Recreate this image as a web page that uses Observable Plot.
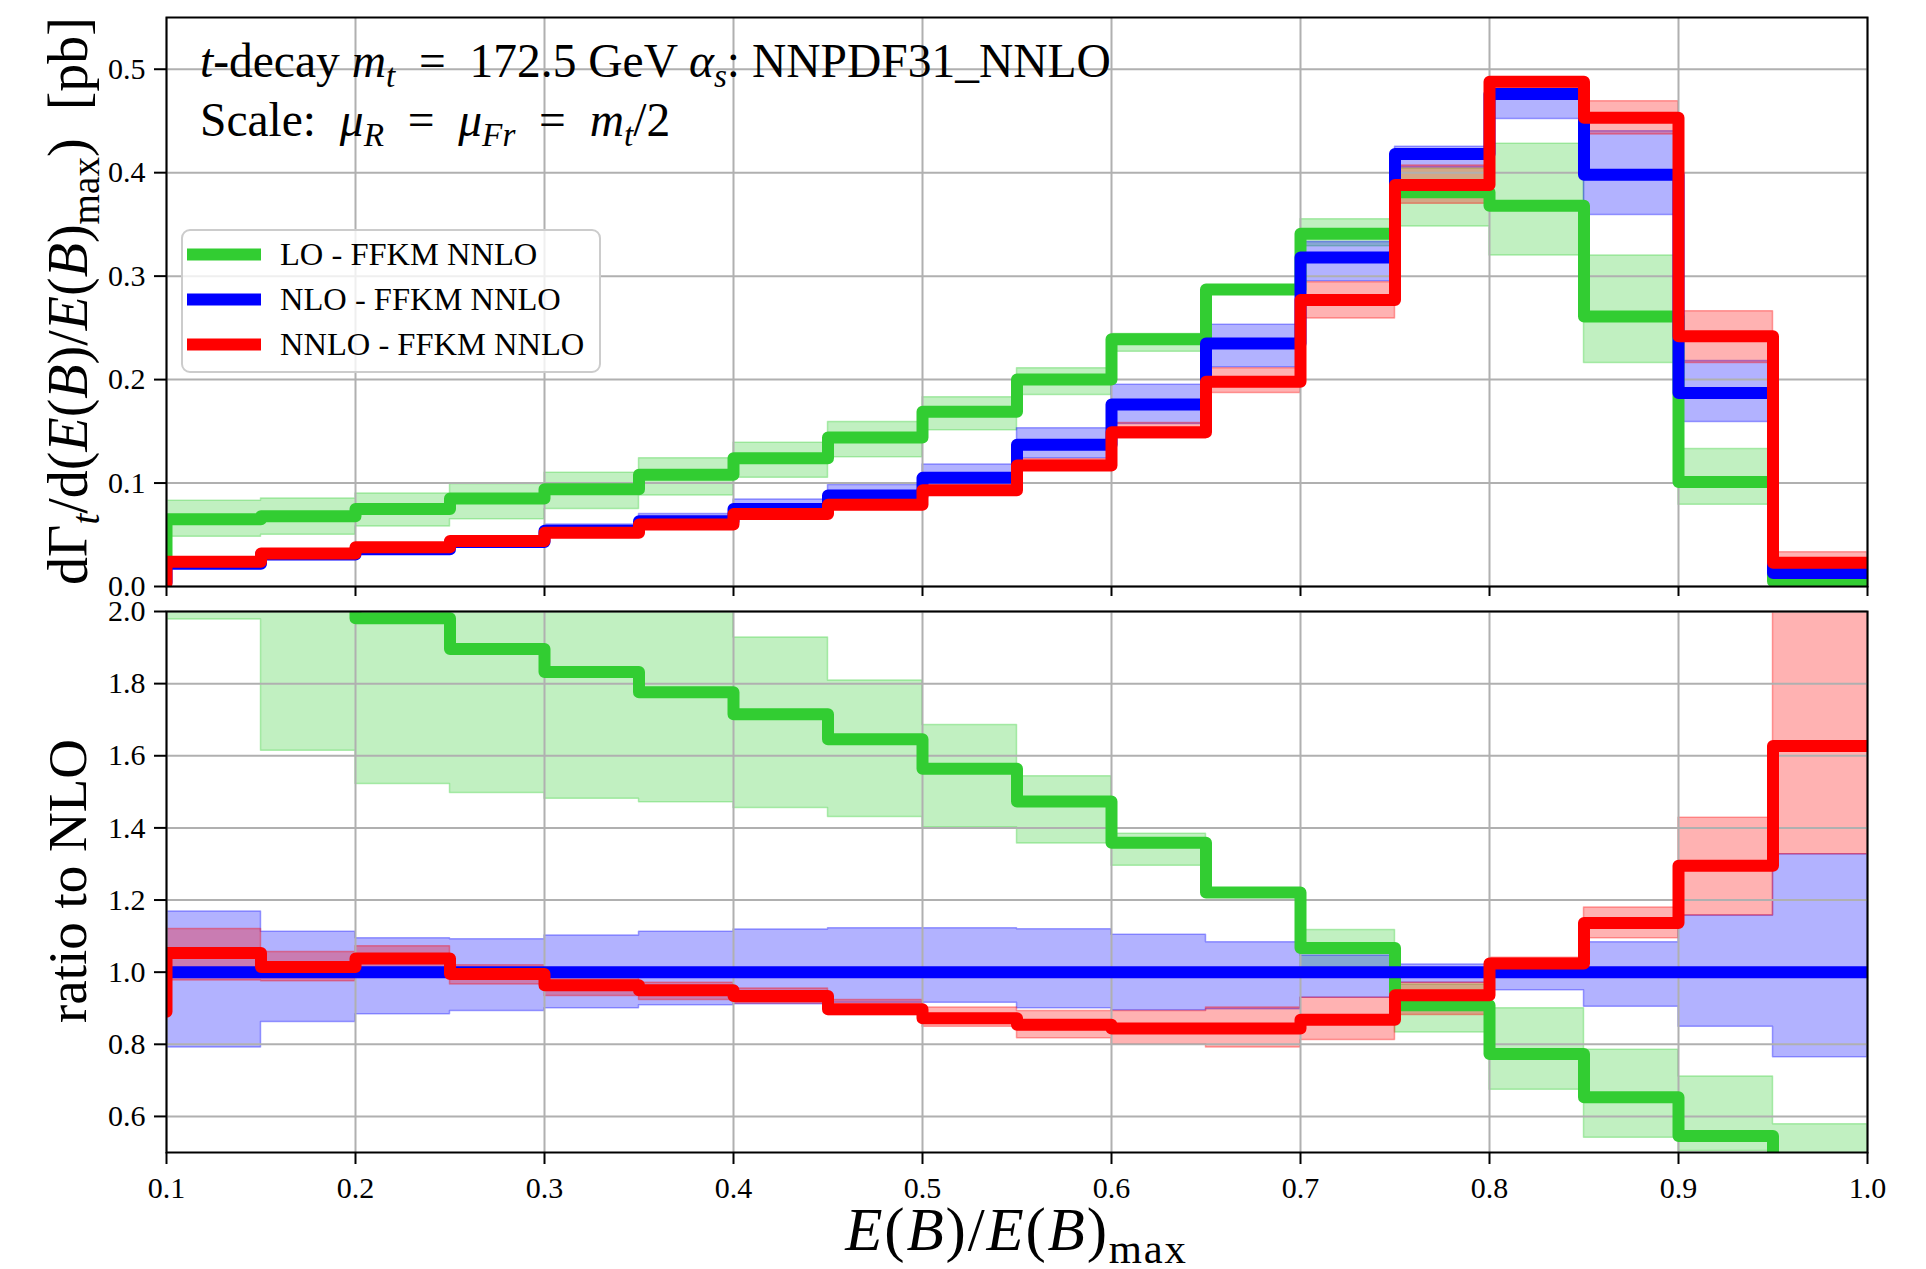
<!DOCTYPE html>
<html><head><meta charset="utf-8">
<script src="https://cdn.jsdelivr.net/npm/d3@7"></script>
<script src="https://cdn.jsdelivr.net/npm/@observablehq/plot@0.6"></script>
<style>
body{margin:0;background:#fff;}
#chart{width:1926px;}
#chart svg{display:block;}
</style></head><body><div id="chart"></div>
<script>
// ---------- data ----------
const binLow = [0.10,0.15,0.20,0.25,0.30,0.35,0.40,0.45,0.50,0.55,0.60,0.65,0.70,0.75,0.80,0.85,0.90,0.95];
const binEnd = 1.0;
const prevBin = 0.05;
const xTicks = [0.1,0.2,0.3,0.4,0.5,0.6,0.7,0.8,0.9,1.0];
const yTicksTop = [0.0,0.1,0.2,0.3,0.4,0.5];
const yTicksRatio = [0.6,0.8,1.0,1.2,1.4,1.6,1.8,2.0];
const seriesNames = ["LO - FFKM NNLO","NLO - FFKM NNLO","NNLO - FFKM NNLO"];

// top panel: dGamma/d(E(B)/E(B)max) [pb]
const loTopPrev = 0.03;
const loTop   = [0.065,0.068,0.075,0.085,0.094,0.108,0.124,0.144,0.169,0.200,0.239,0.287,0.341,0.381,0.368,0.261,0.101,0.005];
const loTopLo = [0.048,0.050,0.058,0.065,0.075,0.088,0.105,0.125,0.151,0.185,0.227,0.282,0.329,0.348,0.320,0.216,0.079,0.003];
const loTopHi = [0.083,0.085,0.090,0.099,0.110,0.124,0.139,0.159,0.183,0.211,0.244,0.290,0.355,0.404,0.428,0.320,0.133,0.008];

const nloTopPrev = 0.004;
const nloTop   = [0.022,0.031,0.036,0.043,0.054,0.063,0.075,0.088,0.105,0.137,0.176,0.235,0.318,0.418,0.476,0.398,0.187,0.013];
const nloTopLo = [0.018,0.027,0.032,0.038,0.049,0.057,0.068,0.081,0.097,0.124,0.157,0.212,0.295,0.405,0.452,0.359,0.159,0.010];
const nloTopHi = [0.026,0.034,0.039,0.047,0.060,0.070,0.084,0.098,0.118,0.153,0.195,0.253,0.333,0.425,0.478,0.440,0.218,0.018];

const nnloTopPrev = 0.003;
const nnloTop   = [0.024,0.032,0.038,0.044,0.052,0.060,0.070,0.079,0.093,0.117,0.149,0.198,0.277,0.388,0.488,0.453,0.242,0.023];
const nnloTopLo = [0.022,0.030,0.036,0.042,0.050,0.058,0.068,0.077,0.090,0.113,0.143,0.187,0.259,0.370,0.478,0.437,0.216,0.018];
const nnloTopHi = [0.026,0.033,0.039,0.045,0.054,0.062,0.072,0.082,0.097,0.123,0.158,0.211,0.294,0.407,0.492,0.469,0.266,0.033];

// bottom panel: ratio to NLO
const loRatioPrev = 3.2;
const loRatio   = [2.95,2.20,1.981,1.896,1.832,1.776,1.715,1.646,1.564,1.473,1.359,1.221,1.067,0.908,0.773,0.653,0.546,0.38];
const loRatioLo = [1.978,1.614,1.522,1.497,1.481,1.471,1.455,1.430,1.402,1.357,1.295,1.210,1.000,0.833,0.674,0.541,0.504,0.30];
const loRatioHi = [4.0,3.0,2.6,2.4,2.3,2.1,1.928,1.809,1.685,1.543,1.384,1.232,1.117,0.966,0.900,0.785,0.711,0.578];

const nloRatioPrev = 1.0;
const nloRatio   = [1,1,1,1,1,1,1,1,1,1,1,1,1,1,1,1,1,1];
const nloRatioLo = [0.791,0.862,0.883,0.892,0.900,0.908,0.911,0.915,0.915,0.900,0.894,0.897,0.929,0.971,0.950,0.904,0.849,0.764];
const nloRatioHi = [1.168,1.112,1.094,1.091,1.102,1.112,1.118,1.122,1.122,1.119,1.104,1.083,1.046,1.021,1.003,1.083,1.157,1.327];

const nnloRatioPrev = 0.89;
const nnloRatio   = [1.053,1.014,1.038,0.995,0.964,0.950,0.934,0.897,0.872,0.854,0.844,0.844,0.868,0.936,1.024,1.136,1.295,1.627];
const nnloRatioLo = [0.977,0.975,1.003,0.966,0.934,0.923,0.913,0.881,0.849,0.817,0.800,0.791,0.812,0.881,1.010,1.094,1.157,1.327];
const nnloRatioHi = [1.120,1.056,1.072,1.019,0.987,0.971,0.955,0.923,0.902,0.892,0.892,0.902,0.929,0.971,1.040,1.179,1.428,2.5];

// ---------- helpers ----------
const colors = ["#32cd32","#0000ff","#ff0000"];
const FONT = "'Liberation Serif', 'Times New Roman', serif";
const EQ = "\u2002=\u2002";
const LW = 12;

function stepLine(vals, prev) {
  const pts = [{x: prevBin, y: prev}];
  binLow.forEach((x, i) => pts.push({x, y: vals[i]}));
  pts.push({x: binEnd, y: vals[vals.length - 1]});
  return pts;
}
function stepBand(lo, hi) {
  const pts = binLow.map((x, i) => ({x, y1: lo[i], y2: hi[i]}));
  pts.push({x: binEnd, y1: lo[lo.length - 1], y2: hi[hi.length - 1]});
  return pts;
}
function bandMark(lo, hi, c) {
  return Plot.areaY(stepBand(lo, hi), {x: "x", y1: "y1", y2: "y2", curve: "step-after",
    fill: c, fillOpacity: 0.3, stroke: c, strokeOpacity: 0.35, strokeWidth: 1.5, clip: true});
}
function lineMark(vals, prev, c) {
  return Plot.line(stepLine(vals, prev), {x: "x", y: "y", curve: "step-after",
    stroke: c, strokeWidth: LW, strokeLinejoin: "round", strokeLinecap: "butt", clip: true});
}
const gridStyle = {stroke: "#b0b0b0", strokeOpacity: 1, strokeWidth: 2};

function rich(sel, segs, size) {
  let shift = 0;
  segs.forEach(s => {
    const target = s.sub ? size * 0.22 : 0;
    const ts = sel.append("tspan").text(s.t);
    if (s.i) ts.attr("font-style", "italic");
    if (s.sub) ts.attr("font-size", size * 0.7);
    if (target !== shift) { ts.attr("dy", target - shift); shift = target; }
  });
}

// ---------- top panel ----------
const topPlot = Plot.plot({
  width: 1926, height: 600,
  marginLeft: 166, marginRight: 59, marginTop: 17, marginBottom: 14,
  style: {fontFamily: FONT, fontSize: "30px", color: "black", background: "white", overflow: "visible"},
  x: {domain: [0.1, 1.0]},
  y: {domain: [0, 0.55]},
  marks: [
    bandMark(loTopLo, loTopHi, colors[0]),
    bandMark(nloTopLo, nloTopHi, colors[1]),
    bandMark(nnloTopLo, nnloTopHi, colors[2]),
    Plot.gridX(xTicks, gridStyle),
    Plot.gridY(yTicksTop, gridStyle),
    lineMark(loTop, loTopPrev, colors[0]),
    lineMark(nloTop, nloTopPrev, colors[1]),
    lineMark(nnloTop, nnloTopPrev, colors[2]),
    Plot.frame({stroke: "black", strokeWidth: 2}),
    Plot.axisY(yTicksTop, {tickSize: 12, tickPadding: 9, tickFormat: d3.format(".1f"), label: null, strokeWidth: 2, fontSize: 30}),
    Plot.axisX(xTicks, {tickSize: 10, tickFormat: () => "", label: null, strokeWidth: 2})
  ]
});

// ---------- ratio panel ----------
const botPlot = Plot.plot({
  width: 1926, height: 669,
  marginLeft: 166, marginRight: 59, marginTop: 11, marginBottom: 117,
  style: {fontFamily: FONT, fontSize: "30px", color: "black", background: "white", overflow: "visible"},
  x: {domain: [0.1, 1.0]},
  y: {domain: [0.5, 2.0]},
  marks: [
    bandMark(loRatioLo, loRatioHi, colors[0]),
    bandMark(nloRatioLo, nloRatioHi, colors[1]),
    bandMark(nnloRatioLo, nnloRatioHi, colors[2]),
    Plot.gridX(xTicks, gridStyle),
    Plot.gridY(yTicksRatio, gridStyle),
    lineMark(loRatio, loRatioPrev, colors[0]),
    lineMark(nloRatio, nloRatioPrev, colors[1]),
    lineMark(nnloRatio, nnloRatioPrev, colors[2]),
    Plot.frame({stroke: "black", strokeWidth: 2}),
    Plot.axisY(yTicksRatio, {tickSize: 12, tickPadding: 9, tickFormat: d3.format(".1f"), label: null, strokeWidth: 2, fontSize: 30}),
    Plot.axisX(xTicks, {tickSize: 12, tickPadding: 12, tickFormat: d3.format(".1f"), label: null, strokeWidth: 2, fontSize: 30})
  ]
});

const chart = document.getElementById("chart");
chart.appendChild(topPlot);
chart.appendChild(botPlot);

// ---------- annotations (top) ----------
const st = d3.select(topPlot);
const ann = st.append("g").attr("font-family", FONT).attr("fill", "black").attr("text-anchor", "start");
const a1 = ann.append("text").attr("x", 200).attr("y", 77).attr("font-size", 47.5).attr("text-anchor", "start");
rich(a1, [{t: "t", i: true}, {t: "-decay "}, {t: "m", i: true}, {t: "t", i: true, sub: true},
          {t: EQ + "172.5 GeV "}, {t: "α", i: true}, {t: "s", i: true, sub: true}, {t: ": NNPDF31_NNLO"}], 47.5);
const a2 = ann.append("text").attr("x", 200).attr("y", 136).attr("font-size", 47.5).attr("text-anchor", "start");
rich(a2, [{t: "Scale:\u2002"}, {t: "μ", i: true}, {t: "R", i: true, sub: true}, {t: EQ},
          {t: "μ", i: true}, {t: "Fr", i: true, sub: true}, {t: EQ}, {t: "m", i: true},
          {t: "t", i: true, sub: true}, {t: "/2"}], 47.5);

// y label (top)
const yl1 = st.append("text").attr("font-family", FONT).attr("font-size", 56).attr("fill", "black")
  .attr("text-anchor", "middle").attr("transform", "translate(87,301) rotate(-90)");
rich(yl1, [{t: "dΓ"}, {t: "t", i: true, sub: true}, {t: "/d("}, {t: "E", i: true}, {t: "("}, {t: "B", i: true},
           {t: ")/"}, {t: "E", i: true}, {t: "("}, {t: "B", i: true}, {t: ")"}, {t: "max", sub: true}, {t: ")  [pb]"}], 56);

// legend
const lg = st.append("g").attr("font-family", FONT).attr("text-anchor", "start");
lg.append("rect").attr("x", 182).attr("y", 230).attr("width", 418).attr("height", 142).attr("rx", 8)
  .attr("fill", "white").attr("fill-opacity", 0.8).attr("stroke", "#cccccc").attr("stroke-width", 2);
seriesNames.forEach((name, i) => {
  const cy = 254.5 + i * 45;
  lg.append("line").attr("x1", 187).attr("x2", 261).attr("y1", cy).attr("y2", cy)
    .attr("stroke", colors[i]).attr("stroke-width", LW);
  lg.append("text").attr("x", 280).attr("y", cy + 10.5).attr("font-size", 32.5).attr("fill", "black")
    .attr("text-anchor", "start").text(name);
});

// ---------- labels (bottom) ----------
const sb = d3.select(botPlot);
sb.append("text").attr("font-family", FONT).attr("font-size", 55).attr("fill", "black")
  .attr("text-anchor", "middle").attr("transform", "translate(86,281) rotate(-90)").text("ratio to NLO");
const xl = sb.append("text").attr("font-family", FONT).attr("font-size", 61).attr("fill", "black")
  .attr("letter-spacing", 1.8)
  .attr("text-anchor", "middle").attr("x", 1016.5).attr("y", 650);
rich(xl, [{t: "E", i: true}, {t: "("}, {t: "B", i: true}, {t: ")/"}, {t: "E", i: true}, {t: "("},
          {t: "B", i: true}, {t: ")"}, {t: "max", sub: true}], 61);
</script>
</body></html>
